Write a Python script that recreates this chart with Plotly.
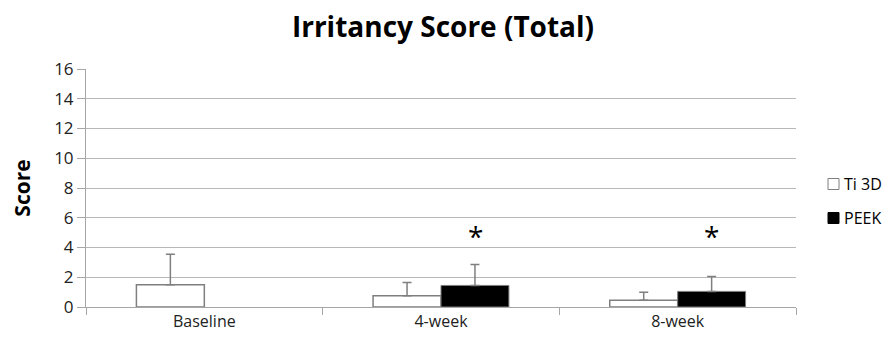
import plotly.graph_objects as go

categories = ["Baseline", "4-week", "8-week"]
ti3d = [1.5, 0.75, 0.45]
ti3d_err = [2.05, 0.9, 0.55]
peek = [None, 1.45, 1.05]
peek_err = [None, 1.4, 1.0]
sig_labels = ["", "*", "*"]
sig_y = [None, 4.75, 4.75]
y_ticks = [0, 2, 4, 6, 8, 10, 12, 14, 16]
series_names = ["Ti 3D", "PEEK"]
series_fill = ["white", "black"]

W, H = 885, 339
L, R, T, B = 78, 97, 61, 40
pw, ph = W - L - R, H - T - B

fig = go.Figure()
fig.add_trace(go.Bar(
    name=series_names[0], x=categories, y=ti3d, showlegend=False,
    marker=dict(color=series_fill[0], line=dict(color="#7f7f7f", width=1.5)),
    error_y=dict(type="data", array=ti3d_err, arrayminus=[0, 0, 0], symmetric=False,
                 color="#7f7f7f", thickness=1.5, width=4.5),
))
fig.add_trace(go.Bar(
    name=series_names[1], x=categories, y=peek, showlegend=False,
    marker=dict(color=series_fill[1], line=dict(color="#7f7f7f", width=1)),
    error_y=dict(type="data", array=peek_err, arrayminus=[0, 0, 0], symmetric=False,
                 color="#7f7f7f", thickness=1.5, width=4.5),
))

for cat, lab, sy in zip(categories, sig_labels, sig_y):
    if lab:
        fig.add_annotation(x=cat, y=sy, text=lab, showarrow=False, xshift=34,
                           yanchor="middle",
                           font=dict(size=28, color="black", family="Open Sans"))

# hand-drawn legend (pixel positions converted to paper units)
leg_x0 = (820 - L) / pw
leg_sq = 11
leg_centers = [176, 210]
for name, fill, cy in zip(series_names, series_fill, leg_centers):
    yc = (H - B - cy) / ph
    half = leg_sq / 2 / ph
    fig.add_shape(type="rect", xref="paper", yref="paper",
                  x0=leg_x0, x1=leg_x0 + leg_sq / pw, y0=yc - half, y1=yc + half,
                  fillcolor=fill, line=dict(color="#7f7f7f" if fill == "white" else "black", width=1))
    fig.add_annotation(xref="paper", yref="paper", x=leg_x0 + (leg_sq + 3) / pw, y=yc,
                       text=name, showarrow=False, xanchor="left", yanchor="middle",
                       font=dict(size=16, color="black", family="Open Sans"))

fig.update_layout(
    width=W, height=H,
    margin=dict(l=L, r=R, t=T, b=B, autoexpand=False),
    paper_bgcolor="white", plot_bgcolor="white",
    barmode="group", bargap=0.426, bargroupgap=0,
    title=dict(text="<b>Irritancy Score (Total)</b>", x=(435) / W, xanchor="center",
               yref="container", y=1 - 19 / H, yanchor="middle",
               font=dict(family="Open Sans", size=28, color="black")),
    font=dict(family="Open Sans", color="#222"),
    showlegend=False,
)
fig.update_xaxes(showline=True, linecolor="#a6a6a6", linewidth=1, ticks="outside",
                 tickson="boundaries", ticklen=7, tickcolor="#a6a6a6", automargin=False,
                 tickfont=dict(size=16, color="#222"), showgrid=False)
fig.update_yaxes(range=[0, 16], tickvals=y_ticks, showline=True, linecolor="#a6a6a6",
                 ticks="outside", ticklen=8, tickcolor="#a6a6a6", gridcolor="#b8b8b8",
                 gridwidth=1, zeroline=False, tickfont=dict(size=17, color="#222"),
                 automargin=False,
                 title=dict(text="<b>Score</b>", font=dict(size=21, color="black"), standoff=24))

fig.write_html("out.html")
